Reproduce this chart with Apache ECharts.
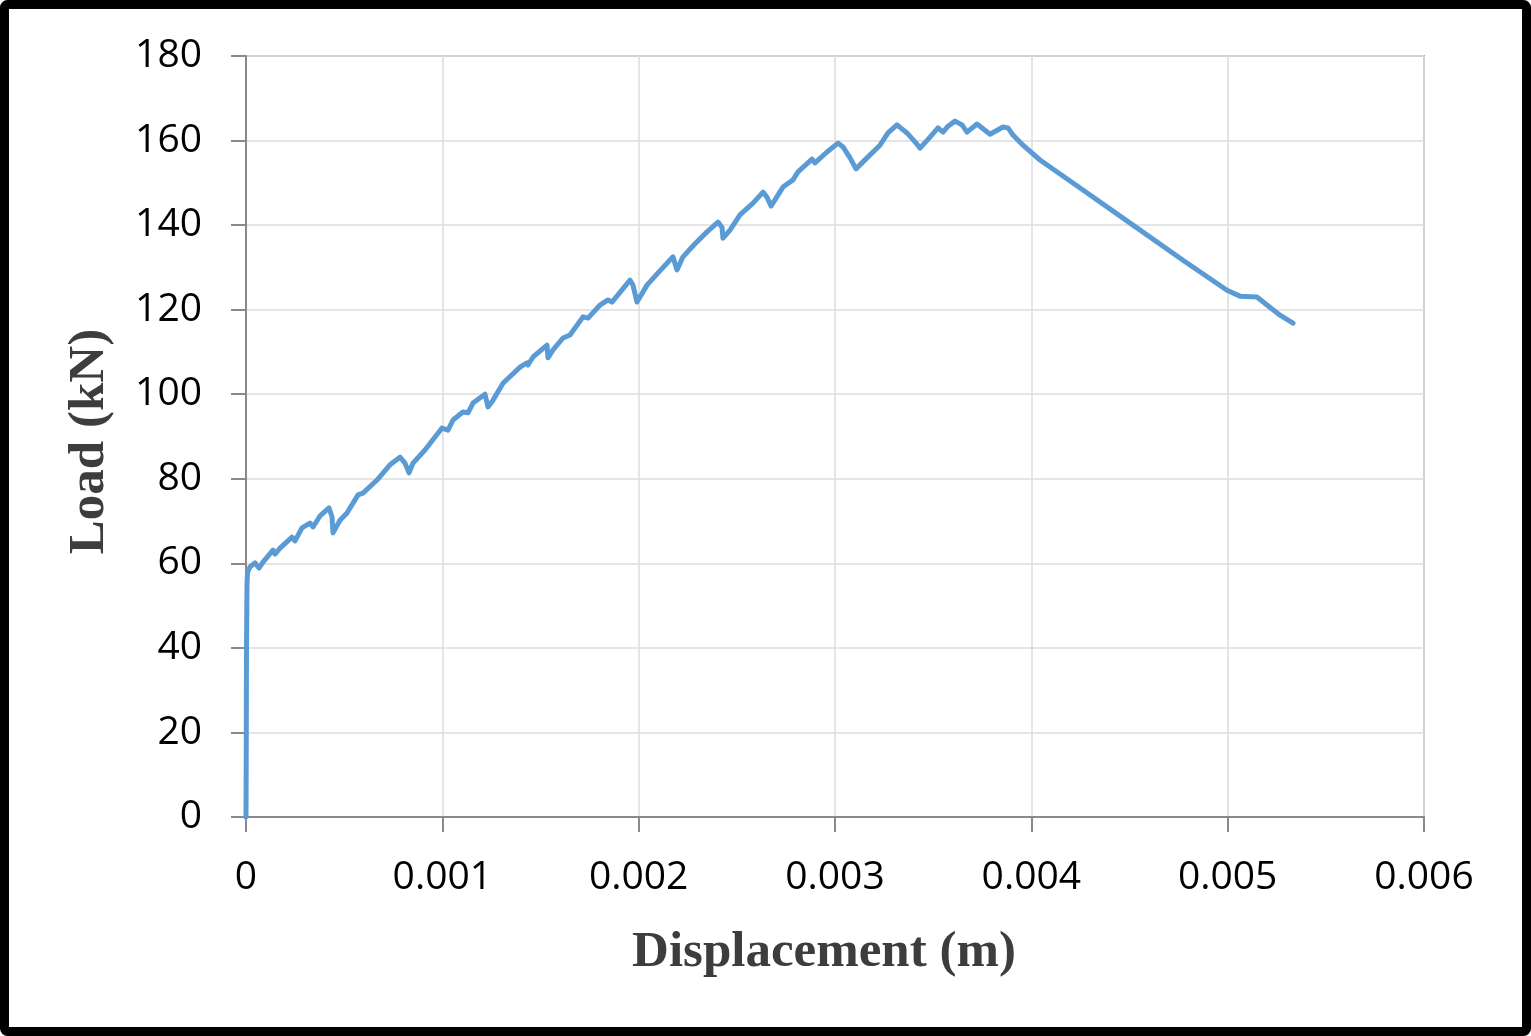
<!DOCTYPE html>
<html>
<head>
<meta charset="utf-8">
<title>Load - Displacement</title>
<script src="https://cdn.jsdelivr.net/npm/echarts@6/dist/echarts.min.js"></script>
<style>
	html, body {
		margin: 0;
		padding: 0;
		background: #fff;
	}
	#chart {
		width: 1531px;
		height: 1036px;
	}
</style>
</head>
<body>
<div id="chart"></div>
<script>
// 位移 (m)
var displacement = [
	0, 0.0000015, 0.0000025, 0.0000051, 0.0000076, 0.0000204, 0.0000458, 0.0000662, 0.0000866, 0.0001375,
	0.0001477, 0.0001732, 0.0002343, 0.0002496, 0.0002852, 0.0003260, 0.0003413, 0.0003769, 0.0004228, 0.0004380,
	0.0004431, 0.0004788, 0.0005144, 0.0005705, 0.0005959, 0.0006672, 0.0007334, 0.0007844, 0.0008099, 0.0008302,
	0.0008506, 0.0009117, 0.0009983, 0.0010289, 0.0010543, 0.0011053, 0.0011307, 0.0011562, 0.0012173, 0.0012326,
	0.0012581, 0.0013090, 0.0013956, 0.0014312, 0.0014363, 0.0014618, 0.0015331, 0.0015382, 0.0015637, 0.0016146,
	0.0016503, 0.0017165, 0.0017419, 0.0018031, 0.0018438, 0.0018642, 0.0019559, 0.0019711, 0.0019915, 0.0020424,
	0.0020985, 0.0021749, 0.0021952, 0.0022258, 0.0022869, 0.0023480, 0.0024041, 0.0024244, 0.0024295, 0.0024652,
	0.0025161, 0.0025823, 0.0026333, 0.0026536, 0.0026740, 0.0027351, 0.0027861, 0.0028116, 0.0028829, 0.0028981,
	0.0029593, 0.0030153, 0.0030408, 0.0030764, 0.0031070, 0.0031630, 0.0032292, 0.0032700, 0.0033158, 0.0033667,
	0.0034075, 0.0034330, 0.0034839, 0.0035246, 0.0035501, 0.0035756, 0.0036112, 0.0036469, 0.0036723, 0.0037233,
	0.0037895, 0.0038557, 0.0038812, 0.0039066, 0.0039575, 0.0040441, 0.0042631, 0.0045178, 0.0047725, 0.0049966,
	0.0050628, 0.0051494, 0.0052003, 0.0052666, 0.0053328
];

// 荷载 (kN)
var load = [
	0, 20, 40, 55, 57.8, 59.2, 60.1, 58.9, 60.3, 63.1,
	62.2, 63.6, 66.2, 65.3, 68.4, 69.5, 68.6, 71.2, 73.1, 71,
	67.2, 70.2, 71.9, 76.2, 76.6, 79.7, 83.3, 85.1, 83.7, 81.4,
	83.7, 86.8, 92, 91.5, 93.9, 95.8, 95.6, 97.9, 100, 97,
	98.6, 102.6, 106.4, 107.4, 106.9, 108.8, 111.6, 108.6, 110.5, 113.3,
	114, 118.3, 118, 121.1, 122.3, 121.8, 127, 125.8, 121.8, 125.8,
	128.7, 132.5, 129.4, 132.5, 135.6, 138.4, 140.7, 139.5, 136.9, 138.8,
	142.4, 145.2, 147.8, 146.6, 144.5, 149, 150.7, 152.6, 155.6, 154.7,
	157.3, 159.4, 158.5, 155.9, 153.3, 155.9, 158.9, 161.8, 163.7, 161.8,
	159.7, 158.2, 160.8, 163, 162, 163.4, 164.6, 163.7, 162, 163.9,
	161.5, 163.2, 163, 161.3, 158.9, 155.4, 148.3, 140, 131.7, 124.6,
	123.2, 123, 121.1, 118.7, 116.8
];

// 坐标轴刻度
var xTicks = [0, 0.001, 0.002, 0.003, 0.004, 0.005, 0.006];
var yTicks = [0, 20, 40, 60, 80, 100, 120, 140, 160, 180];

var LINE_COLOR = '#5B9BD5';
var LABEL_FONT = '"Open Sans", "Liberation Sans", sans-serif';
var TITLE_FONT = '"Liberation Serif", "DejaVu Serif", serif';

function buildSeriesData() {
	var arr = [];
	for (var i = 0; i < displacement.length; i++) {
		arr.push([displacement[i], load[i]]);
	}
	return arr;
}

function renderChart() {
	var myChart = echarts.init(document.getElementById('chart'), null, {
		renderer: 'canvas'
	});

	myChart.setOption({
		animation: false,
		backgroundColor: '#ffffff',
		grid: {
			left: 246,
			right: 107,
			top: 56,
			bottom: 219,
			show: true,
			borderColor: '#b0b0b0',
			borderWidth: 2,
			outerBoundsMode: 'none'
		},
		xAxis: {
			type: 'value',
			min: xTicks[0],
			max: xTicks[xTicks.length - 1],
			interval: 0.001,
			name: 'Displacement (m)',
			nameLocation: 'middle',
			nameGap: 110,
			nameTextStyle: {
				fontFamily: TITLE_FONT,
				fontWeight: 'bold',
				fontSize: 51,
				color: '#3d3d3d',
				padding: [0, 22, 0, 0]
			},
			axisLine: {
				show: true,
				onZero: false,
				lineStyle: {
					color: '#8a8a8a',
					width: 2
				}
			},
			axisTick: {
				show: true,
				inside: false,
				length: 15,
				lineStyle: {
					color: '#8a8a8a',
					width: 2
				}
			},
			axisLabel: {
				margin: 41,
				fontFamily: LABEL_FONT,
				fontSize: 39,
				color: '#000000',
				showMinLabel: true,
				showMaxLabel: true,
				formatter: function(v) {
					return v === 0 ? '0' : v.toFixed(3);
				}
			},
			splitLine: {
				show: true,
				lineStyle: {
					color: '#dcdcdc',
					width: 1.5
				}
			}
		},
		yAxis: {
			type: 'value',
			min: yTicks[0],
			max: yTicks[yTicks.length - 1],
			interval: 20,
			name: 'Load (kN)',
			nameLocation: 'middle',
			nameGap: 131,
			nameRotate: 90,
			nameTextStyle: {
				fontFamily: TITLE_FONT,
				fontWeight: 'bold',
				fontSize: 51,
				color: '#3d3d3d',
				padding: [0, 10, 0, 0]
			},
			axisLine: {
				show: true,
				lineStyle: {
					color: '#8a8a8a',
					width: 2
				}
			},
			axisTick: {
				show: true,
				inside: false,
				length: 15,
				lineStyle: {
					color: '#8a8a8a',
					width: 2
				}
			},
			axisLabel: {
				margin: 44,
				fontFamily: LABEL_FONT,
				fontSize: 39,
				color: '#000000'
			},
			splitLine: {
				show: true,
				lineStyle: {
					color: '#dcdcdc',
					width: 1.5
				}
			}
		},
		graphic: [{
			type: 'rect',
			z: 100,
			silent: true,
			shape: {
				x: 4.5,
				y: 4.5,
				width: 1522,
				height: 1027,
				r: 3
			},
			style: {
				fill: null,
				stroke: '#000000',
				lineWidth: 9
			}
		}],
		series: [{
			type: 'line',
			data: buildSeriesData(),
			showSymbol: false,
			smooth: false,
			clip: false,
			lineStyle: {
				color: LINE_COLOR,
				width: 5,
				join: 'round',
				cap: 'round'
			},
			itemStyle: {
				color: LINE_COLOR
			}
		}]
	});
}

renderChart();
</script>
</body>
</html>
